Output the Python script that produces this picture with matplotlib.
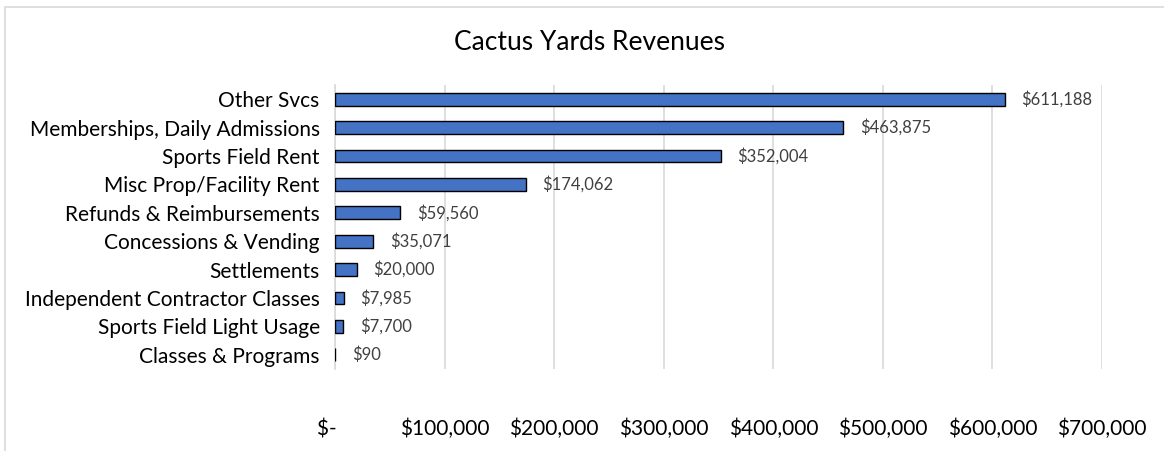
import matplotlib
matplotlib.use("Agg")
import matplotlib.pyplot as plt
from matplotlib.patches import Rectangle

categories = ["Other Svcs", "Memberships, Daily Admissions", "Sports Field Rent",
              "Misc Prop/Facility Rent", "Refunds & Reimbursements", "Concessions & Vending",
              "Settlements", "Independent Contractor Classes", "Sports Field Light Usage",
              "Classes & Programs"]
values = [611188, 463875, 352004, 174062, 59560, 35071, 20000, 7985, 7700, 90]
tick_values = [0, 100000, 200000, 300000, 400000, 500000, 600000, 700000]
tick_labels = ["$-   ", "$100,000", "$200,000", "$300,000", "$400,000", "$500,000", "$600,000", "$700,000"]
title = "Cactus Yards Revenues"

plt.rcParams['font.family'] = ['Lato', 'DejaVu Sans']

W, H = 1164, 451
fig = plt.figure(figsize=(W/100, H/100), dpi=100)
ax = fig.add_axes([335/W, 1-369/H, (1102-335)/W, (369-85)/H])

ypos = list(range(len(categories)))
ax.barh(ypos, values, height=0.45, color="#4472C4", edgecolor="black", linewidth=1.0, zorder=3)
ax.set_ylim(len(categories)-0.5, -0.5)
ax.set_xlim(0, 700000)
ax.set_yticks(ypos)
ax.set_yticklabels(categories, fontsize=15, color="#000000")
ax.set_xticks(tick_values)
ax.set_xticklabels(tick_labels, fontsize=15, color="#000000")
ax.tick_params(axis='y', length=0, pad=11)
ax.tick_params(axis='x', length=0, pad=36)
ax.grid(axis='x', color="#D9D9D9", linewidth=1.2, zorder=0)
for s in ["top", "right", "bottom"]:
    ax.spines[s].set_visible(False)
ax.spines["left"].set_color("#D9D9D9")
ax.spines["left"].set_linewidth(1.2)

for y, v in zip(ypos, values):
    ax.annotate(f"${v:,.0f}", (v, y), xytext=(12, 0), textcoords="offset points",
                va="center", ha="left", fontsize=12, color="#404040")

fig.text(590/W, 1-42/H, title, ha="center", va="center", fontsize=19, color="#000000")
fig.patches.append(Rectangle((5/W, -0.01), 1.2, 1-7/H+0.01, transform=fig.transFigure,
                             fill=False, edgecolor="#D9D9D9", linewidth=1.2))

fig.savefig("out.png", dpi=100)
